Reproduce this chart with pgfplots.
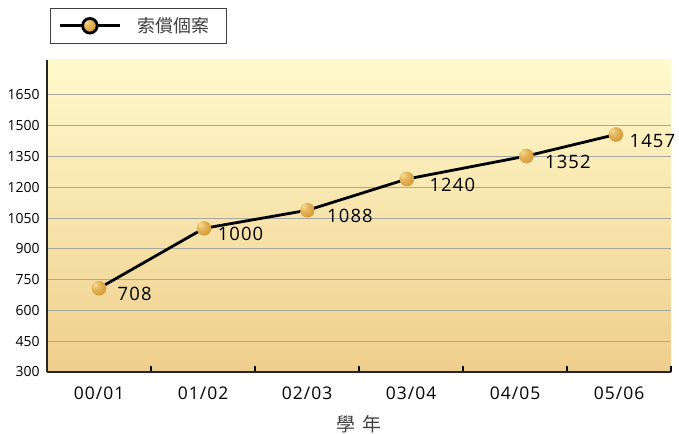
\documentclass[border=0pt]{standalone}
\usepackage{fontspec}
\setmainfont{Open Sans}
\newfontfamily\numfont{Open Sans}[LetterSpace=6]
\newfontfamily\cjk{Noto Sans CJK TC}
\usepackage{pgfplots}
\pgfplotsset{compat=1.18}
\definecolor{bgtop}{HTML}{FFFACD}
\definecolor{bgbot}{HTML}{EFCE8C}
\definecolor{gridc}{HTML}{A8A8A0}
\definecolor{hl}{HTML}{F8DE94}
\definecolor{gold}{HTML}{D89E3C}
\definecolor{golddk}{HTML}{A86F1E}
\pgfdeclareradialshading{goldshade}{\pgfpoint{-14bp}{14bp}}{color(0bp)=(hl); color(14bp)=(hl!40!gold); color(32bp)=(gold); color(58bp)=(golddk); color(100bp)=(golddk)}
\pgfdeclareplotmark{goldball}{\pgfpathcircle{\pgfpointorigin}{\pgfplotmarksize}\pgfshadepath{goldshade}{0}\pgfusepath{discard}}
\begin{document}
\begin{tikzpicture}
\path[use as bounding box] (0,0) rectangle (679bp,434bp);
\begin{axis}[
  at={(47bp,62bp)}, anchor=south west,
  scale only axis, width=624bp, height=312bp,
  xmin=-0.5, xmax=5.5, ymin=300, ymax=1820,
  axis lines*=left,
  axis line style={-, line width=1.6bp, color=black!85},
  axis background/.style={shade, top color=bgtop, bottom color=bgbot},
  xtick={-0.5,0.5,...,5.5},
  x tick label as interval,
  xticklabels={00/01,01/02,02/03,03/04,04/05,05/06},
  xtick pos=bottom,
  tick align=inside,
  major tick length=6bp,
  x tick style={line width=1.2bp, color=black},
  ytick={300,450,...,1650},
  y tick style={draw=none},
  ymajorgrids,
  grid style={color=gridc, line width=0.9bp},
  /pgf/number format/assume math mode=true,
  /pgf/number format/1000 sep={},
  yticklabel style={font=\fontsize{14}{16}\selectfont, xshift=-4bp},
  xticklabel style={font=\numfont\fontsize{17.5}{20}\selectfont, yshift=-11bp},
  xlabel={學\hspace{7bp}年},
  xlabel style={at={(axis description cs:0.5,-0.166)}, anchor=center, font=\cjk\fontsize{19}{20}\selectfont, text=black!75},
  legend style={at={(axis description cs:0.0048,1.1667)}, anchor=north west,
    draw=black!75, line width=1bp, inner xsep=8bp, inner ysep=7bp,
    font=\cjk\fontsize{18}{20}\selectfont, text=black!75},
  legend image code/.code={
    \draw[black, line width=2.8bp] (0bp,0bp) -- (60bp,0bp);
    \shade[shading=goldshade] (30bp,0bp) circle (7.3bp);
  },
  clip=false,
]
\addplot[black, line width=2.8bp, mark=goldball, mark size=7.3bp,
  nodes near coords, point meta=explicit symbolic,
  every node near coord/.append style={anchor=west, font=\numfont\fontsize{18.5}{22}\selectfont, xshift=9bp, yshift=-6bp, text=black}]
coordinates {
  (0,708) [\hspace{5bp}708]
  (1.01,1000) [1000]
  (2.005,1088) [\hspace{6bp}1088]
  (2.96,1240) [\hspace{9bp}1240]
  (4.11,1352) [\hspace{5bp}1352]
  (4.97,1457) [1457]
};
\addlegendentry{\hspace{14bp}索償個案\kern7bp\null}
\end{axis}
\end{tikzpicture}
\end{document}
